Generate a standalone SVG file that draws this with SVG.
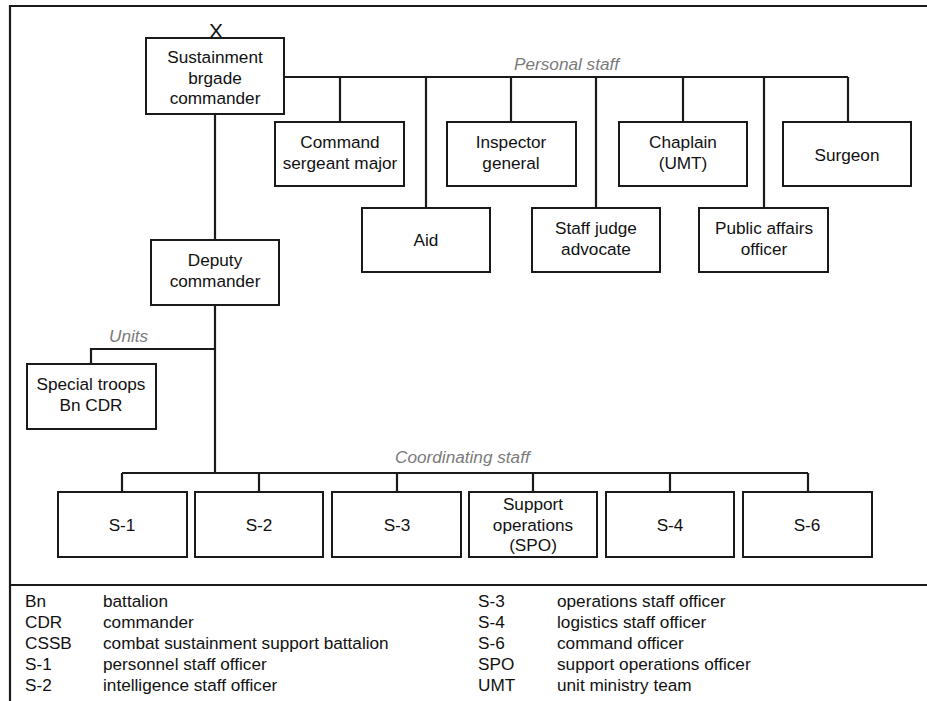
<svg xmlns="http://www.w3.org/2000/svg" width="927" height="701" viewBox="0 0 927 701">
  <style>
    .box { fill: #fff; stroke: #1a1a1a; stroke-width: 2; }
    .ln { fill: none; stroke: #1a1a1a; stroke-width: 2.2; }
    text { font-family: "Liberation Sans", Arial, sans-serif; font-size: 17.2px; fill: #111; }
    .c { text-anchor: middle; }
    .grp { font-style: italic; fill: #7a7a7a; }
  </style>
  <rect width="927" height="701" fill="#fff"/>

  <!-- frame and legend divider -->
  <path class="ln" d="M10,701 V6 H927"/>
  <path class="ln" d="M10,585 H927"/>

  <!-- connectors -->
  <g id="connectors">
    <!-- personal staff bus -->
    <path class="ln" d="M284,77 H848"/>
    <path class="ln" d="M340,77 V122 M426,77 V208 M511,77 V122 M596,77 V208 M683,77 V122 M764,77 V208 M848,77 V122"/>
    <!-- command chain -->
    <path class="ln" d="M215,114 V240 M215,305 V473"/>
    <!-- units -->
    <path class="ln" d="M215,349 H91 V364"/>
    <!-- coordinating staff bus -->
    <path class="ln" d="M122,473 H808"/>
    <path class="ln" d="M122,473 V492 M259,473 V492 M397,473 V492 M533,473 V492 M670,473 V492 M808,473 V492"/>
  </g>

  <!-- group labels -->
  <text class="grp" x="514" y="70">Personal staff</text>
  <text class="grp" x="109" y="342">Units</text>
  <text class="grp" x="395" y="463">Coordinating staff</text>

  <!-- top command -->
  <g id="commander">
    <text class="c" x="216" y="38" style="font-size:21px">X</text>
    <rect class="box" x="146" y="38" width="138" height="76"/>
    <text class="c" x="215" y="63">Sustainment</text>
    <text class="c" x="215" y="84">brgade</text>
    <text class="c" x="215" y="104">commander</text>
  </g>

  <g id="csm">
    <rect class="box" x="275" y="122" width="129" height="64"/>
    <text class="c" x="340" y="148">Command</text>
    <text class="c" x="340" y="169">sergeant major</text>
  </g>
  <g id="ig">
    <rect class="box" x="447" y="122" width="129" height="64"/>
    <text class="c" x="511" y="148">Inspector</text>
    <text class="c" x="511" y="169">general</text>
  </g>
  <g id="chaplain">
    <rect class="box" x="619" y="122" width="128" height="64"/>
    <text class="c" x="683" y="148">Chaplain</text>
    <text class="c" x="683" y="169">(UMT)</text>
  </g>
  <g id="surgeon">
    <rect class="box" x="783" y="122" width="128" height="64"/>
    <text class="c" x="847" y="161">Surgeon</text>
  </g>

  <g id="aid">
    <rect class="box" x="362" y="208" width="128" height="64"/>
    <text class="c" x="426" y="246">Aid</text>
  </g>
  <g id="sja">
    <rect class="box" x="532" y="208" width="128" height="64"/>
    <text class="c" x="596" y="234">Staff judge</text>
    <text class="c" x="596" y="255">advocate</text>
  </g>
  <g id="pao">
    <rect class="box" x="699" y="208" width="129" height="64"/>
    <text class="c" x="764" y="234">Public affairs</text>
    <text class="c" x="764" y="255">officer</text>
  </g>

  <g id="deputy">
    <rect class="box" x="151" y="240" width="128" height="65"/>
    <text class="c" x="215" y="266">Deputy</text>
    <text class="c" x="215" y="287">commander</text>
  </g>

  <g id="stb">
    <rect class="box" x="27" y="364" width="129" height="65"/>
    <text class="c" x="91" y="390">Special troops</text>
    <text class="c" x="91" y="411">Bn CDR</text>
  </g>

  <g id="s1">
    <rect class="box" x="58" y="492" width="129" height="65"/>
    <text class="c" x="122" y="531">S-1</text>
  </g>
  <g id="s2">
    <rect class="box" x="195" y="492" width="128" height="65"/>
    <text class="c" x="259" y="531">S-2</text>
  </g>
  <g id="s3">
    <rect class="box" x="332" y="492" width="129" height="65"/>
    <text class="c" x="397" y="531">S-3</text>
  </g>
  <g id="spo">
    <rect class="box" x="469" y="492" width="128" height="65"/>
    <text class="c" x="533" y="510">Support</text>
    <text class="c" x="533" y="531">operations</text>
    <text class="c" x="533" y="551">(SPO)</text>
  </g>
  <g id="s4">
    <rect class="box" x="606" y="492" width="128" height="65"/>
    <text class="c" x="670" y="531">S-4</text>
  </g>
  <g id="s6">
    <rect class="box" x="743" y="492" width="129" height="65"/>
    <text class="c" x="807" y="531">S-6</text>
  </g>

  <!-- legend -->
  <g id="legend">
    <text x="25" y="607">Bn</text><text x="103" y="607">battalion</text>
    <text x="25" y="628">CDR</text><text x="103" y="628">commander</text>
    <text x="25" y="649">CSSB</text><text x="103" y="649">combat sustainment support battalion</text>
    <text x="25" y="670">S-1</text><text x="103" y="670">personnel staff officer</text>
    <text x="25" y="691">S-2</text><text x="103" y="691">intelligence staff officer</text>
    <text x="478" y="607">S-3</text><text x="557" y="607">operations staff officer</text>
    <text x="478" y="628">S-4</text><text x="557" y="628">logistics staff officer</text>
    <text x="478" y="649">S-6</text><text x="557" y="649">command officer</text>
    <text x="478" y="670">SPO</text><text x="557" y="670">support operations officer</text>
    <text x="478" y="691">UMT</text><text x="557" y="691">unit ministry team</text>
  </g>
</svg>
